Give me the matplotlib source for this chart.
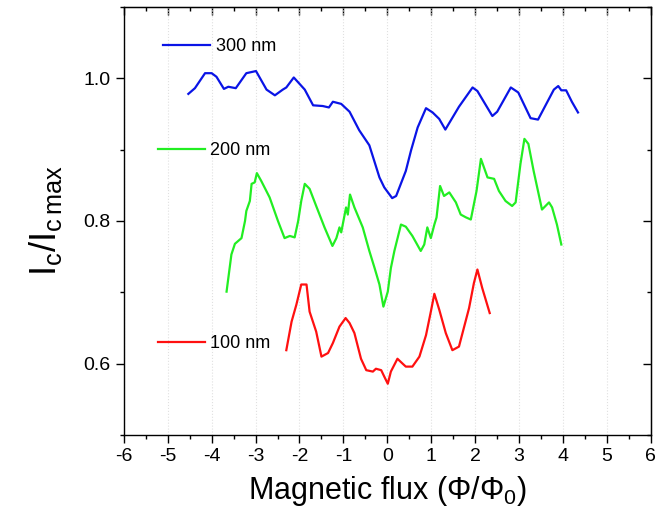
import matplotlib
matplotlib.use("Agg")
import matplotlib.pyplot as plt
from matplotlib.ticker import MultipleLocator

plt.rcParams['font.family'] = ['Liberation Sans', 'DejaVu Sans']
plt.rcParams['axes.unicode_minus'] = False

# 300 nm curve
x300 = [-4.53, -4.38, -4.15, -4.00, -3.89, -3.72, -3.62, -3.45, -3.21, -2.99,
        -2.75, -2.56, -2.38, -2.30, -2.13, -1.88, -1.69, -1.47, -1.33, -1.24,
        -1.05, -0.86, -0.64, -0.41, -0.18, -0.07, 0.11, 0.20, 0.42, 0.54,
        0.69, 0.88, 1.03, 1.18, 1.32, 1.63, 1.94, 2.05, 2.39, 2.50,
        2.81, 2.98, 3.26, 3.43, 3.79, 3.89, 3.96, 4.07, 4.20, 4.34]
y300 = [0.978, 0.986, 1.007, 1.007, 1.002, 0.985, 0.988, 0.986, 1.007, 1.010,
        0.984, 0.976, 0.984, 0.987, 1.001, 0.984, 0.962, 0.961, 0.959, 0.967,
        0.964, 0.953, 0.927, 0.906, 0.861, 0.847, 0.832, 0.835, 0.870, 0.899,
        0.931, 0.958, 0.952, 0.943, 0.928, 0.960, 0.987, 0.982, 0.947, 0.953,
        0.987, 0.980, 0.944, 0.942, 0.984, 0.989, 0.983, 0.983, 0.967, 0.952]

# 200 nm curve
x200 = [-3.66, -3.55, -3.47, -3.32, -3.24, -3.21, -3.13, -3.09, -3.02, -2.97,
        -2.87, -2.68, -2.49, -2.34, -2.22, -2.11, -2.03, -1.96, -1.88, -1.77,
        -1.62, -1.43, -1.25, -1.16, -1.09, -1.05, -0.94, -0.90, -0.85, -0.75,
        -0.56, -0.41, -0.29, -0.18, -0.09, 0.01, 0.08, 0.16, 0.31, 0.42,
        0.57, 0.76, 0.84, 0.91, 0.99, 1.07, 1.12, 1.20, 1.29, 1.41,
        1.56, 1.67, 1.79, 1.90, 2.03, 2.13, 2.28, 2.43, 2.54, 2.69,
        2.84, 2.92, 3.03, 3.12, 3.21, 3.33, 3.52, 3.68, 3.75, 3.86, 3.96]
y200 = [0.701, 0.753, 0.768, 0.776, 0.800, 0.814, 0.828, 0.852, 0.854, 0.867,
        0.856, 0.833, 0.800, 0.776, 0.779, 0.777, 0.800, 0.828, 0.852, 0.845,
        0.821, 0.791, 0.765, 0.776, 0.791, 0.784, 0.819, 0.809, 0.837, 0.819,
        0.791, 0.758, 0.734, 0.711, 0.680, 0.701, 0.734, 0.758, 0.795, 0.792,
        0.779, 0.758, 0.767, 0.791, 0.776, 0.795, 0.805, 0.849, 0.835, 0.840,
        0.826, 0.809, 0.805, 0.802, 0.842, 0.887, 0.861, 0.859, 0.842, 0.828,
        0.821, 0.826, 0.880, 0.915, 0.908, 0.870, 0.816, 0.826, 0.819, 0.795, 0.767]

# 100 nm curve
x100 = [-2.30, -2.18, -2.07, -1.96, -1.84, -1.77, -1.62, -1.50, -1.35, -1.24,
        -1.09, -0.95, -0.86, -0.75, -0.60, -0.48, -0.33, -0.26, -0.14, -0.07,
        0.01, 0.08, 0.23, 0.35, 0.42, 0.57, 0.73, 0.88, 0.99, 1.07,
        1.18, 1.33, 1.48, 1.63, 1.86, 1.97, 2.05, 2.16, 2.33]
y100 = [0.619, 0.659, 0.683, 0.711, 0.711, 0.673, 0.645, 0.610, 0.615, 0.629,
        0.652, 0.664, 0.657, 0.643, 0.607, 0.591, 0.589, 0.593, 0.591, 0.582,
        0.572, 0.589, 0.607, 0.600, 0.596, 0.596, 0.610, 0.640, 0.673, 0.698,
        0.676, 0.643, 0.619, 0.624, 0.678, 0.713, 0.732, 0.706, 0.671]

labels = ['300 nm', '200 nm', '100 nm']
colors = ['#0a14e6', '#22ee22', '#ff1010']
x_ticks = list(range(-6, 7))
y_ticks = [0.6, 0.8, 1.0]

fig = plt.figure(figsize=(6.69, 5.23), dpi=100)
ax = fig.add_axes([0.185, 0.168, 0.788, 0.819])

l300, = ax.plot(x300, y300, color=colors[0], lw=1.6)
l200, = ax.plot(x200, y200, color=colors[1], lw=1.6)
l100, = ax.plot(x100, y100, color=colors[2], lw=1.6)

ax.set_xlim(-6, 6)
ax.set_ylim(0.5, 1.1)
ax.set_xticks(x_ticks)
ax.set_xticklabels([str(v) for v in x_ticks])
ax.xaxis.set_minor_locator(MultipleLocator(0.5))
ax.set_yticks(y_ticks)
ax.set_yticklabels(['%.1f' % v for v in y_ticks])
ax.yaxis.set_minor_locator(MultipleLocator(0.1))

ax.tick_params(which='both', direction='out', top=False, right=False, labelsize=14, width=1)
ax.tick_params(which='major', length=6)
ax.tick_params(which='minor', length=3)
ax.xaxis.grid(True, color='#e0e0e0', linestyle=':', linewidth=0.8)

# inward ticks on top and right, like the original
sec_x = ax.secondary_xaxis('top')
sec_x.xaxis.set_ticks_position('top')
sec_x.set_xticks(x_ticks)
sec_x.xaxis.set_minor_locator(MultipleLocator(0.5))
sec_x.tick_params(which='both', direction='in', top=True, labeltop=False,
                  width=1, color='black')
sec_x.tick_params(which='major', length=6)
sec_x.tick_params(which='minor', length=3)
sec_y = ax.secondary_yaxis('right')
sec_y.yaxis.set_major_locator(MultipleLocator(0.2))
sec_y.yaxis.set_minor_locator(MultipleLocator(0.1))
sec_y.tick_params(which='both', direction='in', labelright=False, width=1)
sec_y.tick_params(which='major', length=6)
sec_y.tick_params(which='minor', length=3)

for s in ax.spines.values():
    s.set_linewidth(1)

ax.set_xlabel(r'Magnetic flux ($\mathregular{\Phi/\Phi_0}$)', fontsize=22, labelpad=6)
ax.set_ylabel(r'$\mathregular{I_c/I_{c\,max}}$', fontsize=26, labelpad=14)

# one legend per curve, placed beside each curve
for line, lab, pos in [(l300, labels[0], (0.075, 0.907)),
                       (l200, labels[1], (0.065, 0.664)),
                       (l100, labels[2], (0.065, 0.213))]:
    leg = ax.legend(handles=[line], labels=[lab], loc='center left', bbox_to_anchor=pos,
                    frameon=False, fontsize=13, handlelength=2.6, handletextpad=0.3,
                    borderpad=0, borderaxespad=0)
    ax.add_artist(leg)
ax.legend_ = None   # avoid drawing the last one twice

fig.savefig('out.png', dpi=100)
